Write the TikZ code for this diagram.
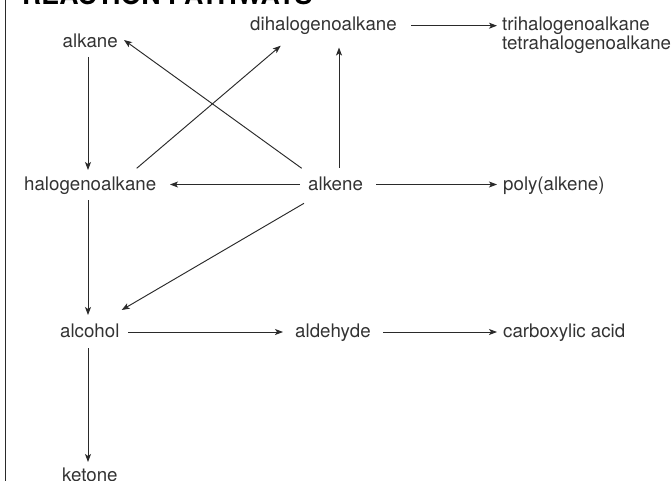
\documentclass[tikz,border=0pt]{standalone}
\usepackage{fontspec}
\setmainfont{TeX Gyre Heros}
\usetikzlibrary{arrows.meta,calc}
\definecolor{txt}{HTML}{333333}
\definecolor{ln}{HTML}{2A2A2A}
\begin{document}
\begin{tikzpicture}[x=1pt,y=-1pt,
  lbl/.style={anchor=base west,inner sep=0pt,text=txt,font=\fontsize{18.7}{18.7}\selectfont},
  arr/.style={draw=ln,line width=0.95pt,-{Stealth[length=8pt,width=6pt,inset=2pt]}}]
\useasboundingbox (0,0) rectangle (671,481);
\draw[ln,line width=1.4pt] (5.5,0) -- (5.5,481);
\node[anchor=base west,inner sep=0pt,text=black,font=\fontsize{26.7}{26.7}\selectfont\bfseries] (title) at (22,5) {REACTION PATHWAYS};
\node[lbl] (alkane) at (62.5,47.5) {alkane};
\node[lbl] (dihalo) at (250,31) {dihalogenoalkane};
\node[lbl] (tri) at (502,31) {trihalogenoalkane};
\node[lbl] (tetra) at (502,49.7) {tetrahalogenoalkane};
\node[lbl] (halo) at (24,190) {halogenoalkane};
\node[lbl] (alkene) at (308,190) {alkene};
\node[lbl] (poly) at (503,190) {poly(alkene)};
\node[lbl] (alcohol) at (60,337) {alcohol};
\node[lbl] (aldehyde) at (295,337) {aldehyde};
\node[lbl] (carbox) at (503,337) {carboxylic acid};
\node[lbl] (ketone) at (62,481.4) {ketone};
% connectors
\draw[arr] ($(alkane.base west)+(25.5,9.5)$) -- ($(halo.base west)+(64,-20)$);
\draw[arr] ($(halo.base west)+(64,10)$) -- ($(alcohol.base west)+(28,-22)$);
\draw[arr] ($(alcohol.base west)+(28,11)$) -- ($(ketone.base west)+(26,-19.4)$);
\draw[arr] ($(alcohol.base west)+(68,-5)$) -- ($(aldehyde.base west)+(-12,-5)$);
\draw[arr] ($(aldehyde.base west)+(88,-5)$) -- ($(carbox.base west)+(-6,-5)$);
\draw[arr] ($(alkene.base west)+(-8,-5.5)$) -- ($(halo.base west)+(146,-5.5)$);
\draw[arr] ($(alkene.base west)+(68,-5.5)$) -- ($(poly.base west)+(-6,-5.5)$);
\draw[arr] ($(dihalo.base west)+(161,-5.3)$) -- ($(tri.base west)+(-5,-5.3)$);
\draw[arr] ($(alkene.base west)+(31,-22)$) -- ($(dihalo.base west)+(89,16.5)$);
\draw[arr] ($(alkene.base west)+(-6.3,-21.7)$) -- ($(alkane.base west)+(61.5,-7.5)$);
\draw[arr] ($(halo.base west)+(112.7,-21.7)$) -- ($(dihalo.base west)+(30.7,14.7)$);
\draw[arr] ($(alkene.base west)+(-4,13.3)$) -- ($(alcohol.base west)+(61.7,-27)$);
\end{tikzpicture}
\end{document}
